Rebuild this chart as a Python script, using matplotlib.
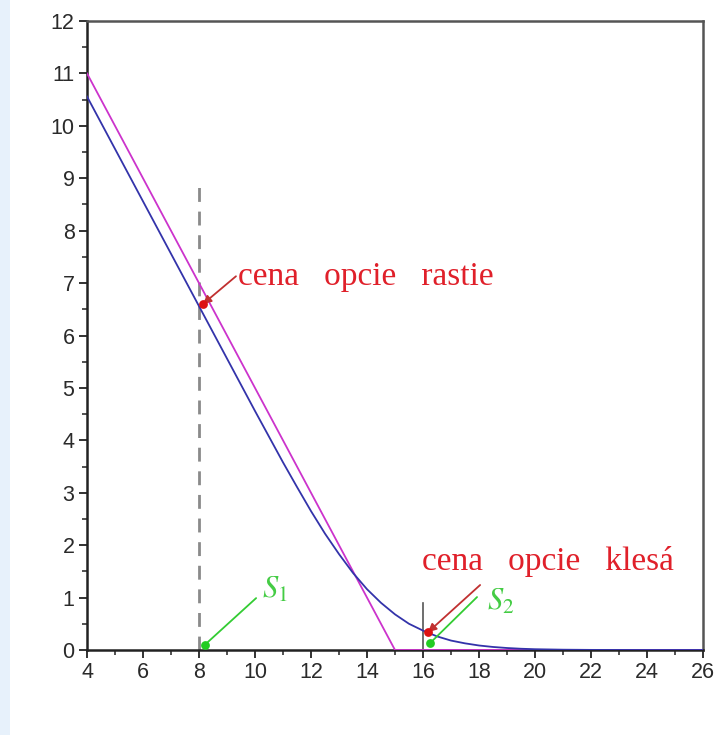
import matplotlib
matplotlib.use("Agg")
import matplotlib.pyplot as plt
from matplotlib.patches import Rectangle
from matplotlib.ticker import MultipleLocator

# ---- data ----
S_price = [4, 5, 6, 7, 8, 9, 10, 10.5, 11, 11.5, 12, 12.5, 13, 13.5, 14, 14.5,
           15, 15.5, 16, 16.5, 17, 17.5, 18, 18.5, 19, 19.5, 20, 21, 22, 23, 24, 26]
option_price = [10.56, 9.56, 8.56, 7.56, 6.56, 5.56, 4.56, 4.07, 3.58, 3.11, 2.65,
                2.22, 1.83, 1.47, 1.16, 0.90, 0.68, 0.50, 0.37, 0.26, 0.18, 0.127,
                0.086, 0.058, 0.038, 0.024, 0.015, 0.006, 0.002, 0.001, 0.0, 0.0]

S_payoff = [4, 15, 26]
payoff = [11, 0, 0]

dash_x = [8, 8]
dash_y = [0, 9]
tick16_x = [16, 16]
tick16_y = [0, 0.9]

red_pts_x = [8.14, 16.18]
red_pts_y = [6.6, 0.34]
green_pts_x = [8.21, 16.25]
green_pts_y = [0.1, 0.13]

red_labels = ["cena   opcie   rastie", "cena   opcie   klesá"]
red_label_pos = [(9.39, 6.97), (15.96, 1.53)]
red_arrow_from = [(9.32, 7.13), (18.04, 1.24)]

green_labels = [r"$S_1$", r"$S_2$"]
green_label_pos = [(10.25, 1.0), (18.29, 0.76)]
green_arrow_from = [(10.04, 0.99), (17.93, 1.01)]

x_ticks = list(range(4, 27, 2))
y_ticks = list(range(0, 13))

# ---- figure ----
plt.rcParams['mathtext.fontset'] = 'stix'
fig = plt.figure(figsize=(7.15, 7.35), dpi=100)
fig.patches.append(Rectangle((0, 0), 10 / 715, 1, transform=fig.transFigure,
                             facecolor="#e7f1fb", edgecolor="none", zorder=0))
ax = fig.add_axes([87 / 715, 85 / 735, 616 / 715, 629 / 735])

ax.plot(dash_x, dash_y, color="#8a8a8a", lw=2.0, dashes=(5, 3.5), zorder=2)
ax.plot(tick16_x, tick16_y, color="#555555", lw=1.2, zorder=2)
ax.plot(S_payoff, payoff, color="#cc33cc", lw=1.3, zorder=3)
ax.plot(S_price, option_price, color="#3333aa", lw=1.3, zorder=4)

serif = ["Liberation Serif", "DejaVu Serif"]
for lab, (tx, ty), (ax0, ay0), px, py in zip(red_labels, red_label_pos, red_arrow_from,
                                             red_pts_x, red_pts_y):
    ax.text(tx, ty, lab, color="#e0202a", fontsize=24, family=serif,
            ha="left", va="baseline", zorder=6)
    ax.annotate("", xy=(px, py), xytext=(ax0, ay0),
                arrowprops=dict(arrowstyle="-|>", color="#c03030", lw=1.3,
                                mutation_scale=12, shrinkA=0, shrinkB=0), zorder=5)

for lab, (tx, ty), (ax0, ay0), px, py in zip(green_labels, green_label_pos, green_arrow_from,
                                             green_pts_x, green_pts_y):
    ax.text(tx, ty, lab, color="#44cc44", fontsize=22, ha="left", va="baseline", zorder=6)
    ax.annotate("", xy=(px, py), xytext=(ax0, ay0),
                arrowprops=dict(arrowstyle="-", color="#33cc33", lw=1.3,
                                shrinkA=0, shrinkB=0), zorder=5)

ax.scatter(red_pts_x, red_pts_y, s=40, color="#dd1111", zorder=7, linewidths=0)
ax.scatter(green_pts_x, green_pts_y, s=40, color="#22cc22", zorder=7, linewidths=0)

ax.set_xlim(4, 26)
ax.set_ylim(0, 12)
ax.set_xticks(x_ticks)
ax.set_yticks(y_ticks)
ax.xaxis.set_minor_locator(MultipleLocator(1))
ax.yaxis.set_minor_locator(MultipleLocator(0.5))
ax.tick_params(which="major", direction="out", length=6, width=1.3, color="#222222",
               labelsize=15.5, pad=3)
ax.tick_params(which="minor", direction="out", length=3.5, width=1.1, color="#222222")
for lbl in ax.get_xticklabels() + ax.get_yticklabels():
    lbl.set_family(["Liberation Sans", "DejaVu Sans"])
    lbl.set_color("#2a2a2a")

for side in ["left", "bottom"]:
    ax.spines[side].set_linewidth(1.8)
    ax.spines[side].set_color("#222222")
for side in ["top", "right"]:
    ax.spines[side].set_linewidth(1.8)
    ax.spines[side].set_color("#555555")

fig.savefig("out.png", dpi=100)
